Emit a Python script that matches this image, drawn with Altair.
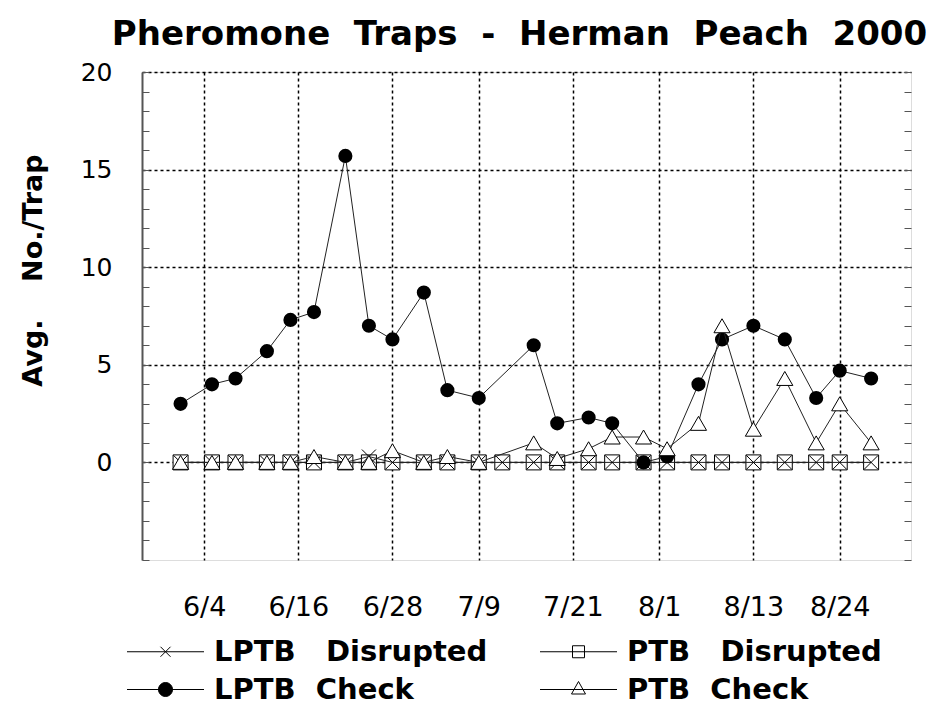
import altair as alt
import pandas as pd

# ---------------- data ----------------
dates = ["2000-06-01", "2000-06-05", "2000-06-08", "2000-06-12", "2000-06-15",
         "2000-06-18", "2000-06-22", "2000-06-25", "2000-06-28", "2000-07-02",
         "2000-07-05", "2000-07-09", "2000-07-12", "2000-07-16", "2000-07-19",
         "2000-07-23", "2000-07-26", "2000-07-30", "2000-08-02", "2000-08-06",
         "2000-08-09", "2000-08-13", "2000-08-17", "2000-08-21", "2000-08-24",
         "2000-08-28"]

# legend order (filled column by column): col 1 = LPTB, col 2 = PTB
series_names = ["LPTB Disrupted", "LPTB Check", "PTB Disrupted", "PTB Check"]

lptb_disrupted = [0, 0, 0, 0, 0, 0, 0, 0.3, 0, 0, 0, 0, 0, 0, 0, 0, 0, 0, 0, 0,
                  0, 0, 0, 0, 0, 0]
ptb_disrupted = [0, 0, 0, 0, 0, 0, 0, 0, 0, 0, 0, 0, 0, 0, 0, 0, 0, 0, 0, 0,
                 0, 0, 0, 0, 0, 0]
lptb_check = [3.0, 4.0, 4.3, 5.7, 7.3, 7.7, 15.7, 7.0, 6.3, 8.7, 3.7, 3.3, None,
              6.0, 2.0, 2.3, 2.0, 0.0, 0.3, 4.0, 6.3, 7.0, 6.3, 3.3, 4.7, 4.3]
ptb_check = [0, 0, 0, 0, 0, 0.3, 0, 0, 0.6, 0, 0.3, 0, None, 1.0, 0.2, 0.7, 1.3,
             1.3, 0.7, 2.0, 7.0, 1.7, 4.3, 1.0, 3.0, 1.0]

tick_dates = ["2000-06-04", "2000-06-16", "2000-06-28", "2000-07-09",
              "2000-07-21", "2000-08-01", "2000-08-13", "2000-08-24"]
y_label_values = [0, 5, 10, 15, 20]
y_minor_values = [-5, -4, -3, -2, -1, 0, 1, 2, 3, 4, 5, 6, 7, 8, 9, 10, 11, 12,
                  13, 14, 15, 16, 17, 18, 19, 20]

title_text = "Pheromone \u00a0Traps \u00a0- \u00a0Herman \u00a0Peach \u00a02000"
y_title = "Avg. \u00a0\u00a0\u00a0No./Trap"

# ---------------- table ----------------
series_values = {"LPTB Disrupted": lptb_disrupted, "PTB Disrupted": ptb_disrupted,
                 "LPTB Check": lptb_check, "PTB Check": ptb_check}
rows = []
for name, vals in series_values.items():
    for d, v in zip(dates, vals):
        if v is not None:
            rows.append({"date": d + "T00:00:00", "series": name, "value": v})
df = pd.DataFrame(rows)


def dt(s, hours=0):
    y, m, d = s.split("-")
    return alt.DateTime(year=int(y), month=int(m), date=int(d), hours=hours)


tick_vals = [dt(s) for s in tick_dates]
x_scale = alt.Scale(domain=[dt("2000-05-27", 2), dt("2000-09-02", 2)])
y_scale = alt.Scale(domain=[-5, 20], nice=False, zero=False)

grid_kw = dict(grid=True, gridColor="black", gridDash=[3, 3], gridWidth=1.5,
               gridOpacity=1)

x_main = alt.X("date:T", scale=x_scale, title=None,
               axis=alt.Axis(values=tick_vals, format="%-m/%-d",
                             labelFont="DejaVu Sans", labelFontSize=27,
                             labelColor="black", labelPadding=34,
                             labelFlush=False, labelOverlap=False,
                             ticks=False, domain=False, **grid_kw))
x_plain = alt.X("date:T", scale=x_scale, title=None)

y_main = alt.Y("value:Q", scale=y_scale,
               axis=alt.Axis(orient="left", values=y_label_values,
                             labelFont="DejaVu Sans", labelFontSize=25,
                             labelColor="black", labelPadding=30,
                             ticks=False, domain=True, domainColor="#555",
                             domainWidth=2, title=y_title,
                             titleFont="DejaVu Sans", titleFontSize=27,
                             titleFontWeight="bold", titleColor="black",
                             titleAngle=270, titleX=-109, titleY=198,
                             titleAlign="center", titleBaseline="middle",
                             **grid_kw))
minor_kw = dict(values=y_minor_values, labels=False, domain=False, grid=False,
                ticks=True, tickSize=7, tickColor="#555", tickWidth=1,
                offset=-7, title=None)
y_minor_left = alt.Y("value:Q", scale=y_scale,
                     axis=alt.Axis(orient="left", **minor_kw))
y_minor_right = alt.Y("value:Q", scale=y_scale,
                      axis=alt.Axis(orient="right", **minor_kw))
y_none = alt.Y("value:Q", scale=y_scale, axis=None)

base = alt.Chart(df)


def sel(name):
    return base.transform_filter(alt.datum.series == name)


line_kw = dict(color="#222", strokeWidth=1)

l_ptbd = sel("PTB Disrupted").mark_line(**line_kw).encode(x=x_main, y=y_main)
p_ptbd = sel("PTB Disrupted").mark_point(
    shape="square", size=225, filled=True, fill="white", stroke="black",
    strokeWidth=1, opacity=1).encode(x=x_plain, y=y_minor_left)
l_lptbd = sel("LPTB Disrupted").mark_line(**line_kw).encode(
    x=x_plain, y=y_minor_right)
p_lptbd = sel("LPTB Disrupted").mark_point(
    shape="M-1,-1L1,1M-1,1L1,-1", size=196, filled=False, color="black",
    strokeWidth=1, opacity=1).encode(x=x_plain, y=y_none)
l_lptbc = sel("LPTB Check").mark_line(**line_kw).encode(x=x_plain, y=y_none)
p_lptbc = sel("LPTB Check").mark_point(
    shape="circle", size=200, filled=True, color="black", opacity=1).encode(
    x=x_plain, y=y_none)
l_ptbc = sel("PTB Check").mark_line(**line_kw).encode(x=x_plain, y=y_none)
p_ptbc = sel("PTB Check").mark_point(
    shape="triangle-up", size=260, filled=True, fill="white", stroke="black",
    strokeWidth=1, opacity=1).encode(x=x_plain, y=y_none)

# legend glyphs: a line through the series symbol (same order as series_names)
# (unit = 10 px at symbol size 400; the line reaches beyond the unit box)
legend_paths = [
    "M-3.85,0L3.85,0M-0.5,-0.5L0.5,0.5M-0.5,0.5L0.5,-0.5",
    "M-3.85,0L3.85,0M0.7,0A0.7,0.7 0 1,1 -0.7,0A0.7,0.7 0 1,1 0.7,0Z",
    "M-3.85,0L3.85,0M-0.6,-0.6L0.6,-0.6L0.6,0.6L-0.6,0.6Z",
    "M-3.85,0L3.85,0M0,-0.8L0.7,0.45L-0.7,0.45Z",
]
legend_fills = ["white", "black", "white", "white"]
legend_strokes = ["black", "black", "black", "black"]

label_expr = ("indexof(datum.label, 'Disrupted') >= 0 ? "
              "replace(datum.label, ' ', ' \u00a0\u00a0') : "
              "replace(datum.label, ' ', ' \u00a0')")
leg = alt.Legend(orient="none", legendX=9, legendY=565, columns=2,
                 columnPadding=50, rowPadding=8, title=None,
                 labelFont="DejaVu Sans", labelFontWeight="bold",
                 labelFontSize=29, labelColor="black", labelOffset=34,
                 labelLimit=0, symbolStrokeColor="black", symbolStrokeWidth=1,
                 symbolSize=400, symbolOpacity=1,
                 labelExpr=label_expr, padding=0)

legend_layer = base.transform_filter("false").mark_point(
    size=400, filled=True, strokeWidth=1, opacity=1).encode(
    x=x_plain, y=y_none,
    shape=alt.Shape("series:N",
                    scale=alt.Scale(domain=series_names, range=legend_paths),
                    legend=leg),
    fill=alt.Fill("series:N",
                  scale=alt.Scale(domain=series_names, range=legend_fills),
                  legend=leg),
    stroke=alt.Stroke("series:N",
                      scale=alt.Scale(domain=series_names, range=legend_strokes),
                      legend=leg),
)

chart = alt.layer(
    l_ptbd, p_ptbd, l_lptbd, p_lptbd, l_lptbc, p_lptbc, l_ptbc, p_ptbc,
    legend_layer
).resolve_scale(y="shared", x="shared").resolve_axis(
    y="independent"
).properties(
    width=769, height=488,
    autosize=alt.AutoSizeParams(type="none"),
    padding={"left": 134, "top": 64, "right": 16, "bottom": 142},
    title=alt.Title(text=title_text, font="DejaVu Sans", fontSize=34,
                    fontWeight="bold", color="black", anchor="middle",
                    dx=-7, dy=33, offset=14, baseline="alphabetic"),
).configure_view(stroke="#333", strokeWidth=1).configure(background="white")

chart.save("out.html", embed_options={"renderer": "svg", "actions": False})
